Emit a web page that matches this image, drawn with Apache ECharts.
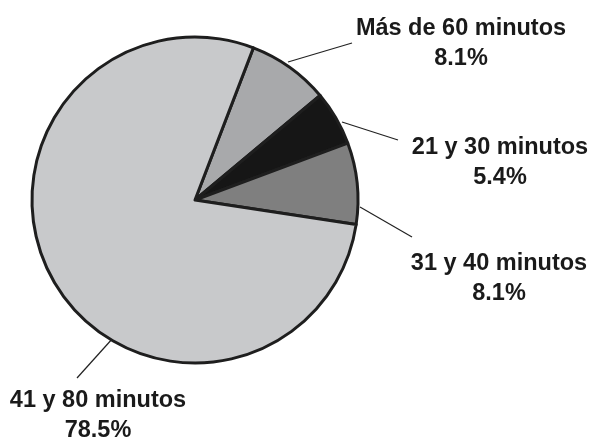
<!DOCTYPE html>
<html>
<head>
<meta charset="utf-8">
<script src="https://cdn.jsdelivr.net/npm/echarts@6/dist/echarts.min.js"></script>
<style>
html, body { margin: 0; padding: 0; background: #fff; }
#chart { width: 591px; height: 438px; }
</style>
</head>
<body>
<div id="chart"></div>
<script>
// tiempo de traslado
var categorias = ['Más de 60 minutos', '21 y 30 minutos', '31 y 40 minutos', '41 y 80 minutos'];
var porcentajes = [8.1, 5.4, 8.1, 78.5];
var colores = ['#a8a9ab', '#161616', '#7f7f7f', '#c8c9cb'];

// posiciones de etiquetas y fin de las líneas guía
var etiquetas = [
	{ x: 461, y: 44, ini: [288, 62], fin: [352, 43] },
	{ x: 500, y: 163, ini: [342, 122], fin: [398, 140] },
	{ x: 499, y: 279, ini: [360, 207], fin: [412, 237] },
	{ x: 98, y: 416, ini: [113, 338], fin: [77, 378] }
];

var chart = echarts.init(document.getElementById('chart'));

var datos = categorias.map(function (c, i) {
	return { name: c, value: porcentajes[i], itemStyle: { color: colores[i] } };
});

var option = {
	backgroundColor: '#fff',
	animation: false,
	series: [{
		type: 'pie',
		center: [195, 200],
		radius: 163,
		startAngle: 69,
		clockwise: true,
		avoidLabelOverlap: false,
		data: datos,
		itemStyle: {
			borderColor: '#1e1e1e',
			borderWidth: 3
		},
		label: {
			show: true,
			formatter: '{b}\n{c}%',
			fontFamily: 'Liberation Sans, Arial, sans-serif',
			fontWeight: 'bold',
			fontSize: 23.5,
			lineHeight: 30,
			color: '#1a1a1a',
			align: 'center'
		},
		labelLine: {
			show: true,
			lineStyle: { color: '#222', width: 1.2 }
		},
		labelLayout: function (params) {
			var e = etiquetas[params.dataIndex];
			return {
				x: e.x,
				y: e.y,
				align: 'center',
				verticalAlign: 'middle',
				labelLinePoints: [e.ini, e.fin, e.fin]
			};
		}
	}]
};
chart.setOption(option);
window.onresize = chart.resize;
</script>
</body>
</html>
